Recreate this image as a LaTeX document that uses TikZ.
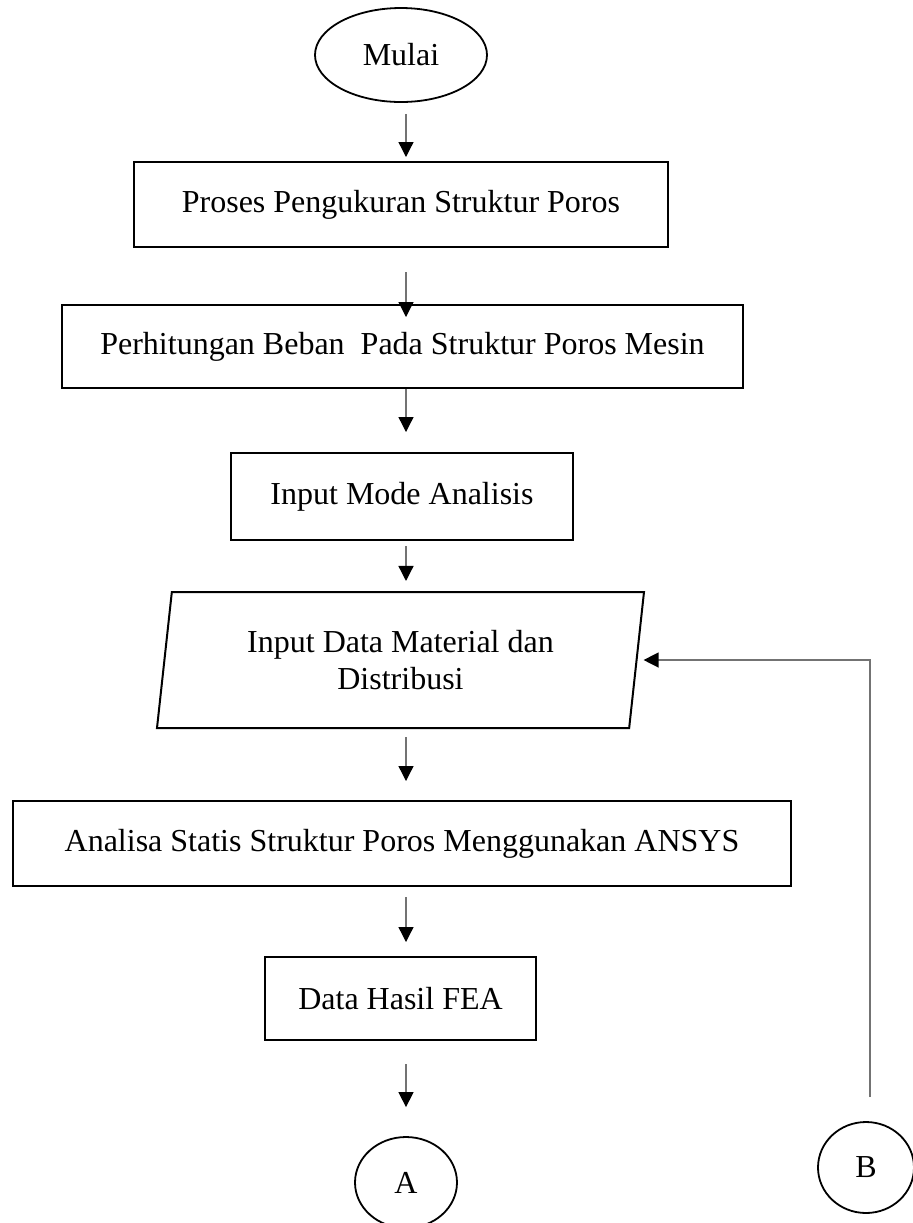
\documentclass[tikz,border=0pt]{standalone}
\usepackage{fontspec}
\setmainfont{Liberation Serif}
\usetikzlibrary{arrows.meta,shapes.geometric}
\tikzset{
  boxnode/.style={draw=black, line width=1pt, rectangle, inner sep=0pt, align=center,
    font=\fontsize{16}{18.5}\selectfont},
  ovalnode/.style={draw=black, line width=0.9pt, ellipse, inner sep=0pt,
    font=\fontsize{16}{18.5}\selectfont},
  flow/.style={draw=black!55, line width=0.65pt,
    -{Triangle[length=7.5pt,width=7.5pt,color=black]}},
}
\begin{document}
\begin{tikzpicture}[x=0.5pt,y=-0.5pt]
\useasboundingbox (0,0) rectangle (912,1223);
\coordinate (ax) at (406,0);
\node[ovalnode, minimum width=86pt, minimum height=47pt] (start) at (401,55) {Mulai};
\node[boxnode, minimum width=267pt, minimum height=42.5pt] (b1) at (401,204.5) {Proses Pengukuran Struktur Poros};
\node[boxnode, minimum width=340.5pt, minimum height=41.5pt] (b2) at (402.5,346.5) {Perhitungan Beban\ \ Pada Struktur Poros Mesin};
\node[boxnode, minimum width=171pt, minimum height=43.5pt] (b3) at (402,496.5) {Input Mode Analisis};
\node[boxnode, trapezium, trapezium left angle=76, trapezium right angle=104,
  trapezium stretches body=true, minimum width=243.5pt, minimum height=68pt] (par) at (400.5,660)
  {Input Data Material dan\\Distribusi};
\node[boxnode, minimum width=389pt, minimum height=42.5pt] (b4) at (402,843.5) {Analisa Statis Struktur Poros Menggunakan ANSYS};
\node[boxnode, minimum width=135.5pt, minimum height=41.5pt] (b5) at (400.5,998.5) {Data Hasil FEA};
\node[ovalnode, minimum width=51pt, minimum height=45.5pt] (A) at (406,1182.5) {A};
\node[ovalnode, minimum width=48pt, minimum height=45.5pt] (B) at (866,1167.5) {B};

\draw[flow, shorten <=5.5pt, shorten >=2pt] (start.south -| ax) -- (b1.north -| ax);
\draw[flow, shorten <=12pt, shorten >=-6.5pt] (b1.south -| ax) -- (b2.north -| ax);
\draw[flow, shorten <=0pt, shorten >=10pt] (b2.south -| ax) -- (b3.north -| ax);
\draw[flow, shorten <=2.5pt, shorten >=5pt] (b3.south -| ax) -- (par.north -| ax);
\draw[flow, shorten <=4pt, shorten >=9.5pt] (par.south -| ax) -- (b4.north -| ax);
\draw[flow, shorten <=5pt, shorten >=7pt] (b4.south -| ax) -- (b5.north -| ax);
\draw[flow, shorten <=11.5pt, shorten >=14.5pt] (b5.south -| ax) -- (A.north -| ax);
\draw[flow, shorten <=12pt, shorten >=3pt] ([xshift=2pt]B.north) |- (par.east);
\end{tikzpicture}
\end{document}
